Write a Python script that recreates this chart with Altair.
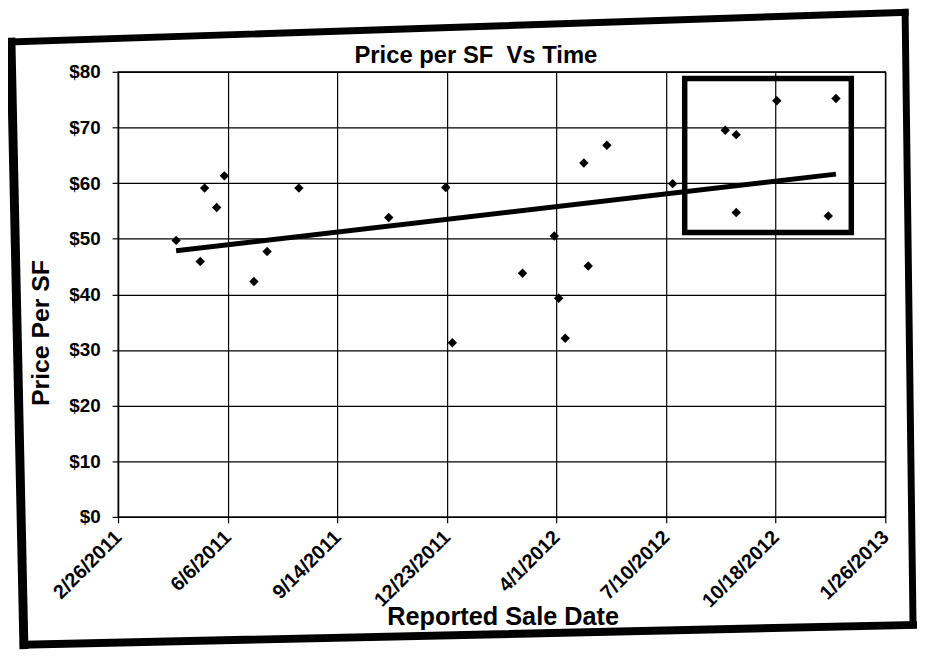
import altair as alt
import pandas as pd

# ---- data ----
sale_dates = [
    "2011-04-20", "2011-05-16", "2011-06-03", "2011-05-27", "2011-05-12",
    "2011-06-30", "2011-07-12", "2011-08-10", "2011-10-31", "2011-12-22",
    "2011-12-28", "2012-03-01", "2012-03-30", "2012-04-03", "2012-04-09",
    "2012-04-26", "2012-04-30", "2012-05-17", "2012-07-16", "2012-09-02",
    "2012-09-12", "2012-09-12", "2012-10-19", "2012-12-12", "2012-12-05",
]
price_per_sf = [
    49.7, 59.1, 61.3, 55.6, 45.9,
    42.3, 47.7, 59.1, 53.8, 59.2,
    31.3, 43.8, 50.5, 39.3, 32.1,
    63.6, 45.1, 66.8, 59.9, 69.5,
    68.7, 54.7, 74.8, 75.2, 54.1,
]
x_tick_dates = ["2011-02-26", "2011-06-06", "2011-09-14", "2011-12-23",
                "2012-04-01", "2012-07-10", "2012-10-18", "2013-01-26"]
y_ticks = [0, 10, 20, 30, 40, 50, 60, 70, 80]

chart_title = "Price per SF\u00a0 Vs Time"

# hand-drawn highlight box (data coordinates)
box_dates = ["2012-07-27", "2012-12-26"]
box_values = [51.1, 78.8]


def dt(s):
    y, m, d = (int(p) for p in s.split("-"))
    return alt.DateTime(year=y, month=m, date=d, utc=True)


df = pd.DataFrame({"date": sale_dates, "price": price_per_sf})
box_df = pd.DataFrame({"d1": [box_dates[0]], "d2": [box_dates[1]],
                       "v1": [box_values[0]], "v2": [box_values[1]]})

FONT = "Liberation Sans"
W, H = 774, 449

x_scale = alt.Scale(type="utc", domain=[dt(x_tick_dates[0]), dt(x_tick_dates[-1])], nice=False)
y_scale = alt.Scale(domain=[0, 80], nice=False)

x_axis = alt.Axis(
    values=[dt(s) for s in x_tick_dates], format="%-m/%-d/%Y",
    labelAngle=315, labelAlign="right", labelBaseline="middle",
    labelFontSize=20, labelFontWeight="bold", labelPadding=11,
    title="Reported Sale Date", titleFontSize=25.5, titleFontWeight="bold",
    titleX=388, titleY=109, titleBaseline="alphabetic", titleAlign="center",
    tickSize=6, grid=True,
)
y_axis = alt.Axis(
    values=y_ticks, format="$.0f",
    labelFontSize=19, labelFontWeight="bold", labelPadding=12,
    title="Price Per SF", titleFontSize=25, titleFontWeight="bold",
    titleX=-78, titleY=263, titleAngle=270, titleAlign="center", titleBaseline="middle",
    tickSize=6, grid=True,
)

points = alt.Chart(df).mark_point(shape="diamond", filled=True, size=90, color="black", opacity=1).encode(
    x=alt.X("date:T", scale=x_scale, axis=x_axis),
    y=alt.Y("price:Q", scale=y_scale, axis=y_axis),
)

trend = alt.Chart(df).transform_calculate(
    t="toDate(datum.date)"
).transform_regression("t", "price").mark_line(color="black", strokeWidth=5).encode(
    x=alt.X("t:T", scale=x_scale),
    y=alt.Y("price:Q", scale=y_scale),
)

box = alt.Chart(box_df).mark_rect(fill="transparent", stroke="black", strokeWidth=5.5).encode(
    x=alt.X("d1:T", scale=x_scale),
    x2="d2:T",
    y=alt.Y("v1:Q", scale=y_scale),
    y2="v2:Q",
)

# chart title as a text mark (pixel position relative to plot area)
title_mark = alt.Chart().mark_text(
    text=chart_title, font=FONT, fontSize=24, fontWeight="bold", color="black",
    align="center", baseline="alphabetic",
).encode(x=alt.value(361), y=alt.value(-9))

# decorative outer border of the scanned page (pixel positions, relative to plot area)
frame_style = dict(color="black", strokeCap="square")
frame_top = alt.Chart().mark_rule(strokeWidth=7, **frame_style).encode(
    x=alt.value(-109), y=alt.value(-30), x2=alt.value(794), y2=alt.value(-60))
frame_left = alt.Chart().mark_rule(strokeWidth=9, **frame_style).encode(
    x=alt.value(-108), y=alt.value(-30), x2=alt.value(-95), y2=alt.value(578))
frame_bottom = alt.Chart().mark_rule(strokeWidth=8, **frame_style).encode(
    x=alt.value(-95), y=alt.value(578), x2=alt.value(802), y2=alt.value(558))
frame_right = alt.Chart().mark_rule(strokeWidth=7, **frame_style).encode(
    x=alt.value(794), y=alt.value(-60), x2=alt.value(802), y2=alt.value(558))

chart = alt.layer(points, trend, box, title_mark,
                  frame_top, frame_left, frame_bottom, frame_right).properties(
    width=W,
    height=H,
    padding={"left": 111, "top": 61.5, "right": 32, "bottom": 140},
    autosize=alt.AutoSizeParams(type="none"),
).configure(
    font=FONT,
    background="white",
).configure_axis(
    labelColor="black", titleColor="black", domainColor="black", tickColor="black",
    gridColor="black", gridOpacity=1, gridWidth=1.2, domainWidth=1.3, tickWidth=1.2,
    labelFont=FONT, titleFont=FONT,
).configure_view(
    stroke="black", strokeWidth=1.3,
)

chart.save("out.html", embed_options={"renderer": "svg", "actions": False})
